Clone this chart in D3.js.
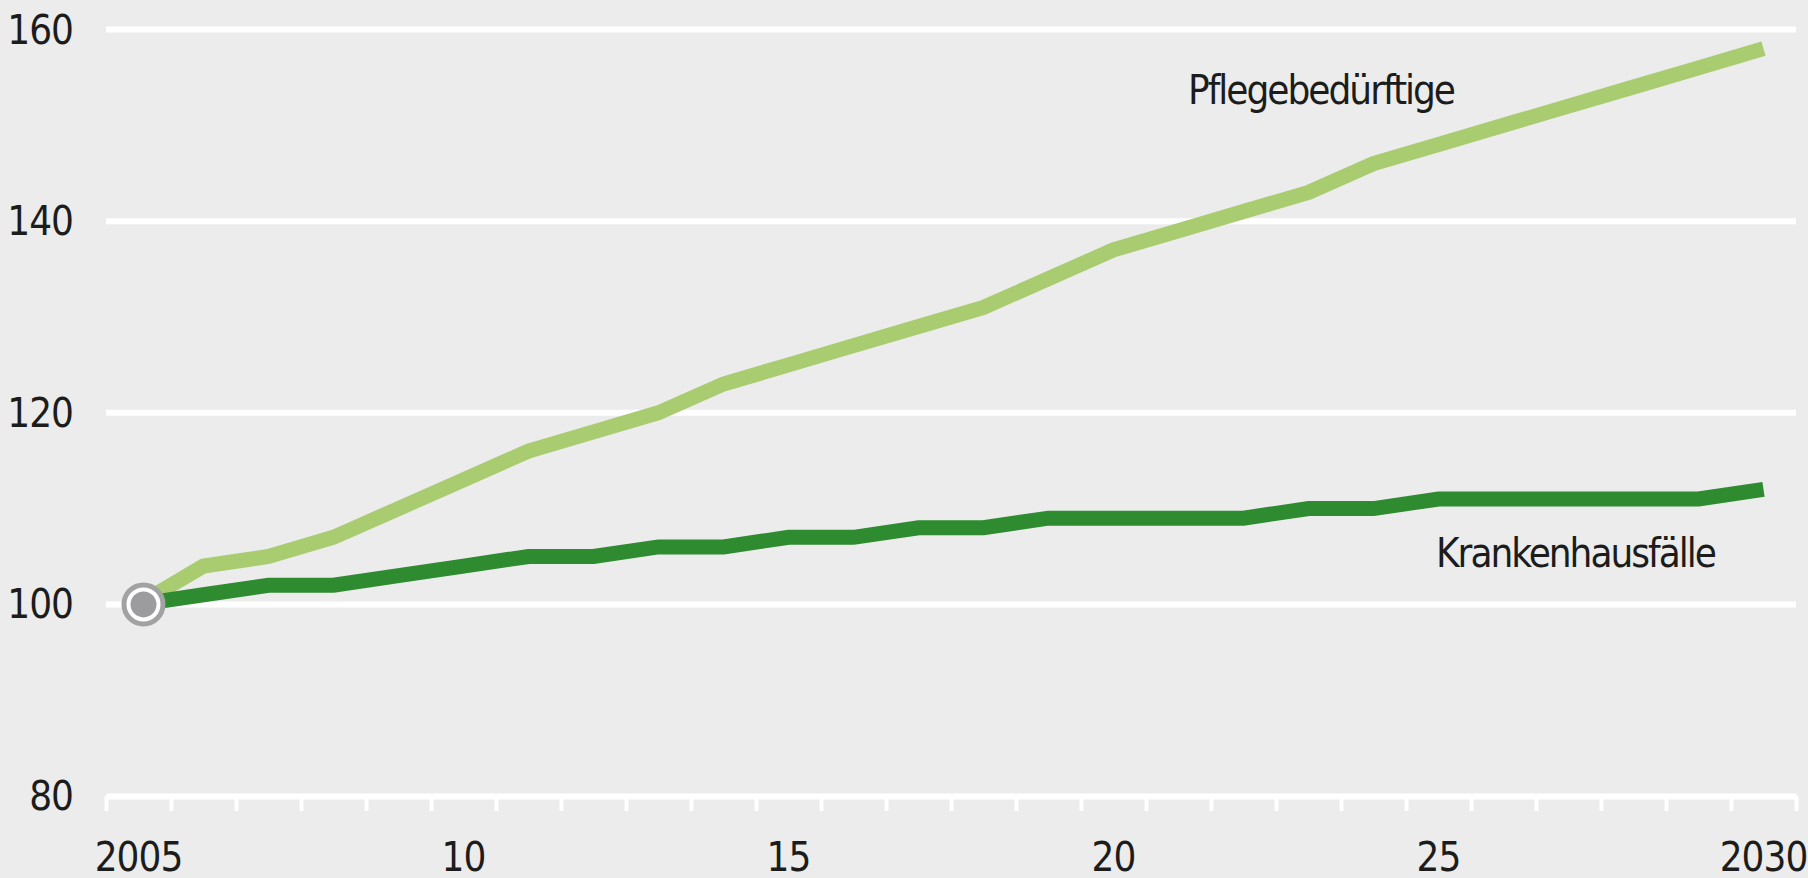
<!DOCTYPE html>
<html>
<head>
<meta charset="utf-8">
<script src="https://cdn.jsdelivr.net/npm/d3@7"></script>
<style>
  html, body { margin: 0; padding: 0; background: #ebeceb; }
  text { font-family: 'Liberation Sans Narrow', 'DejaVu Sans Condensed', sans-serif; fill: #1c1c1c; }
</style>
</head>
<body>
<div id="chartContainer"></div>
<script>
// Data
const years = d3.range(2005, 2031);
const pflege = [100, 104, 105, 107, 110, 113, 116, 118, 120, 123, 125, 127, 129, 131, 134, 137, 139, 141, 143, 146, 148, 150, 152, 154, 156, 158];
const kranken = [100, 101, 102, 102, 103, 104, 105, 105, 106, 106, 107, 107, 108, 108, 109, 109, 109, 109, 110, 110, 111, 111, 111, 111, 111, 112];
const yTicks = [80, 100, 120, 140, 160];
const xLabels = { 2005: '2005', 2010: '10', 2015: '15', 2020: '20', 2025: '25', 2030: '2030' };

const width = 1808;
const height = 878;
const plot = { left: 106, right: 1796, top: 29.5, bottom: 796 };

const svg = d3
  .select('#chartContainer')
  .append('svg')
  .attr('width', width)
  .attr('height', height);

svg.append('rect')
  .attr('width', width)
  .attr('height', height)
  .attr('fill', '#ebeceb');

// Scales: each year is one slot, points sit in the middle
const x = d3.scaleLinear().domain([2004.5, 2030.5]).range([plot.left, plot.right]);
const y = d3.scaleLinear().domain([80, 160]).range([plot.bottom, plot.top]);

// Grid lines
svg.append('g')
  .selectAll('line')
  .data(yTicks.filter(d => d > 80))
  .enter()
  .append('line')
  .attr('x1', plot.left)
  .attr('x2', plot.right)
  .attr('y1', d => y(d))
  .attr('y2', d => y(d))
  .attr('stroke', '#fff')
  .attr('stroke-width', 6);

// Y labels
svg.append('g')
  .selectAll('text')
  .data(yTicks)
  .enter()
  .append('text')
  .attr('x', 73)
  .attr('y', d => y(d))
  .attr('dy', '0.35em')
  .attr('text-anchor', 'end')
  .style('font-size', '40px')
  .style('letter-spacing', '-1px')
  .text(d => d);

// X axis with year-boundary ticks
const xAxis = d3.axisBottom(x)
  .tickValues(d3.range(2004.5, 2031, 1))
  .tickSize(15)
  .tickSizeOuter(0)
  .tickFormat('');
const gx = svg.append('g')
  .attr('transform', `translate(0,${y(80)})`)
  .call(xAxis);
gx.select('.domain').attr('stroke', '#fff').attr('stroke-width', 6);
gx.selectAll('.tick line').attr('stroke', '#fff').attr('stroke-width', 4);

svg.append('g')
  .selectAll('text')
  .data(Object.keys(xLabels).map(Number))
  .enter()
  .append('text')
  .attr('x', d => x(d))
  .attr('y', 871)
  .attr('text-anchor', 'middle')
  .style('font-size', '40px')
  .style('letter-spacing', '-1px')
  .text(d => xLabels[d]);

// Lines
const line = d3.line()
  .x((d, i) => x(years[i]))
  .y(d => y(d));

svg.append('path')
  .attr('d', line(pflege))
  .attr('fill', 'none')
  .attr('stroke', '#a9cc70')
  .attr('stroke-width', 15);

svg.append('path')
  .attr('d', line(kranken))
  .attr('fill', 'none')
  .attr('stroke', '#2e8b30')
  .attr('stroke-width', 15);

// Start marker
svg.append('circle')
  .attr('cx', x(2005) + 5)
  .attr('cy', y(100))
  .attr('r', 19.5)
  .attr('fill', '#fff')
  .attr('stroke', '#a2a2a3')
  .attr('stroke-width', 5);
svg.append('circle')
  .attr('cx', x(2005) + 5)
  .attr('cy', y(100))
  .attr('r', 13)
  .attr('fill', '#9c9c9e');

// Series labels
svg.append('text')
  .attr('x', 1188)
  .attr('y', 104)
  .style('font-size', '40px')
  .style('letter-spacing', '-2px')
  .text('Pflegebedürftige');
svg.append('text')
  .attr('x', 1436)
  .attr('y', 567)
  .style('font-size', '40px')
  .style('letter-spacing', '-2px')
  .text('Krankenhausfälle');
</script>
</body>
</html>
